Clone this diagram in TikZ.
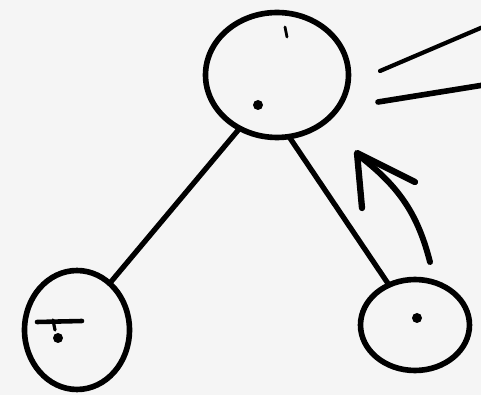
\documentclass[tikz,border=0pt]{standalone}
\usepackage{tikz}
\usetikzlibrary{shapes.geometric}

\begin{document}
\begin{tikzpicture}[x=0.02cm, y=-0.02cm,
        blob/.style={draw=black, line width=3.2pt, ellipse, inner sep=0pt, outer sep=0pt},
        pen/.style={draw=black, line width=3pt, line cap=round, line join=round}]
            %paper
            \path[use as bounding box, fill=white!96!black] (0,0) rectangle (481,395);
            \clip (0,0) rectangle (481,395);

            %circles
            \node[blob, minimum width=2.86cm, minimum height=2.5cm] (root) at (277,75) {};
            \node[blob, minimum width=2.1cm, minimum height=2.38cm] (leftkid) at (77,330) {};
            \node[blob, minimum width=2.18cm, minimum height=1.82cm] (rightkid) at (415,325) {};

            %edges
            \draw[pen] (root.235) -- (leftkid.55);
            \draw[pen] (root.281) -- (rightkid.123);

            %rays
            \draw[pen, line width=2.4pt] (380,71) -- (490,24);
            \draw[pen, line width=3.2pt] (378,102) -- (490,84);

            %arrow back up
            \draw[pen, line width=3.4pt] (430,262) .. controls (418,215) and (400,188) .. (362,158);
            \draw[pen, line width=3.6pt] (362,208) -- (357,153) -- (415,182);

            %marks inside circles
            \draw[pen, line width=1.6pt] (285,27) -- (287,37);
            \fill (258,105) circle[radius=5];
            \draw[pen, line width=2.6pt] (37,322) -- (82,321);
            \draw[pen, line width=1.8pt] (53,320) -- (55,330);
            \fill (58,338) circle[radius=5];
            \fill (417,318) circle[radius=5];
\end{tikzpicture}
\end{document}
